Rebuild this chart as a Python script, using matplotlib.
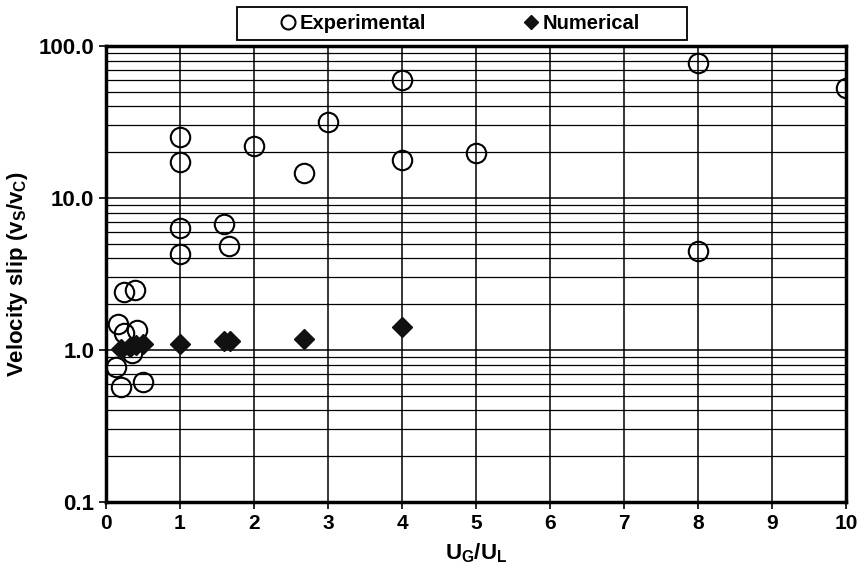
import numpy as np
import matplotlib.pyplot as plt
from matplotlib.patches import Rectangle
from matplotlib.ticker import LogLocator, FixedFormatter, FixedLocator, NullFormatter

plt.rcParams['font.family'] = ['Liberation Sans', 'DejaVu Sans']
plt.rcParams['font.weight'] = 'bold'
plt.rcParams['mathtext.default'] = 'bf'

# experimental data (open circles)
exp_x = [0.13, 0.2, 0.5, 0.35, 0.16, 0.24, 0.42, 0.24, 0.39,
         1.0, 1.0, 1.0, 1.0, 1.6, 1.66, 2.0, 2.67, 3.0,
         4.0, 4.0, 5.0, 8.0, 8.0, 10.0]
exp_y = [0.77, 0.57, 0.62, 0.96, 1.48, 1.29, 1.35, 2.41, 2.48,
         25.2, 17.3, 6.35, 4.28, 6.7, 4.83, 22.0, 14.6, 31.6,
         59.5, 17.8, 19.8, 77.0, 4.45, 52.8]

# numerical data (filled diamonds)
num_x = [0.2, 0.33, 0.4, 0.5, 1.0, 1.6, 1.67, 2.67, 4.0]
num_y = [1.02, 1.05, 1.08, 1.1, 1.1, 1.15, 1.15, 1.19, 1.42]

fig = plt.figure(figsize=(8.66, 5.77), dpi=100)
ax = fig.add_axes([0.1224, 0.13, 0.8545, 0.7903])

ax.plot(exp_x, exp_y, linestyle='none', marker='o', markersize=14,
        markerfacecolor='none', markeredgecolor='black', markeredgewidth=1.5,
        label='Experimental', zorder=3)
ax.plot(num_x, num_y, linestyle='none', marker='D', markersize=10.5,
        color='#111111', label='Numerical', zorder=4)

ax.set_yscale('log')
ax.set_xlim(0, 10)
ax.set_ylim(0.1, 100)
ax.set_xticks(range(0, 11))
ax.yaxis.set_major_locator(FixedLocator([0.1, 1, 10, 100]))
ax.yaxis.set_major_formatter(FixedFormatter(['0.1', '1.0', '10.0', '100.0']))
ax.yaxis.set_minor_locator(LogLocator(base=10, subs=np.arange(2, 10)))
ax.yaxis.set_minor_formatter(NullFormatter())

ax.grid(True, which='major', color='black', linewidth=1.1)
ax.grid(True, which='minor', axis='y', color='black', linewidth=0.9)
ax.set_axisbelow(True)

ax.tick_params(axis='both', which='major', direction='out', length=5, width=1.2)
ax.tick_params(axis='y', which='major', labelsize=16)
ax.tick_params(axis='x', which='major', labelsize=15)
ax.tick_params(axis='y', which='minor', length=0)
for lbl in ax.get_xticklabels() + ax.get_yticklabels():
    lbl.set_fontweight('bold')
for sp in ax.spines.values():
    sp.set_linewidth(2.5)

ax.set_xlabel(r'U$_\mathregular{G}$/U$_\mathregular{L}$', fontsize=16,
              fontweight='bold', labelpad=6)
ax.set_ylabel(r'Velocity slip (v$_\mathregular{S}$/v$_\mathregular{C}$)', fontsize=16,
              fontweight='bold', labelpad=6)

leg = fig.legend(loc='center', bbox_to_anchor=(0.530, 0.959), ncol=2,
                 frameon=False, prop={'weight': 'bold', 'size': 14.5},
                 markerscale=0.72, handletextpad=0.1, handlelength=1.0,
                 columnspacing=4.7)

# legend box drawn by hand so it can be wider than the entries
fig.patches.append(Rectangle((237 / 866, 1 - 40 / 577), 450 / 866, 33 / 577,
                             transform=fig.transFigure, fill=False,
                             edgecolor='black', linewidth=1.3))

fig.savefig('out.png', dpi=100)
